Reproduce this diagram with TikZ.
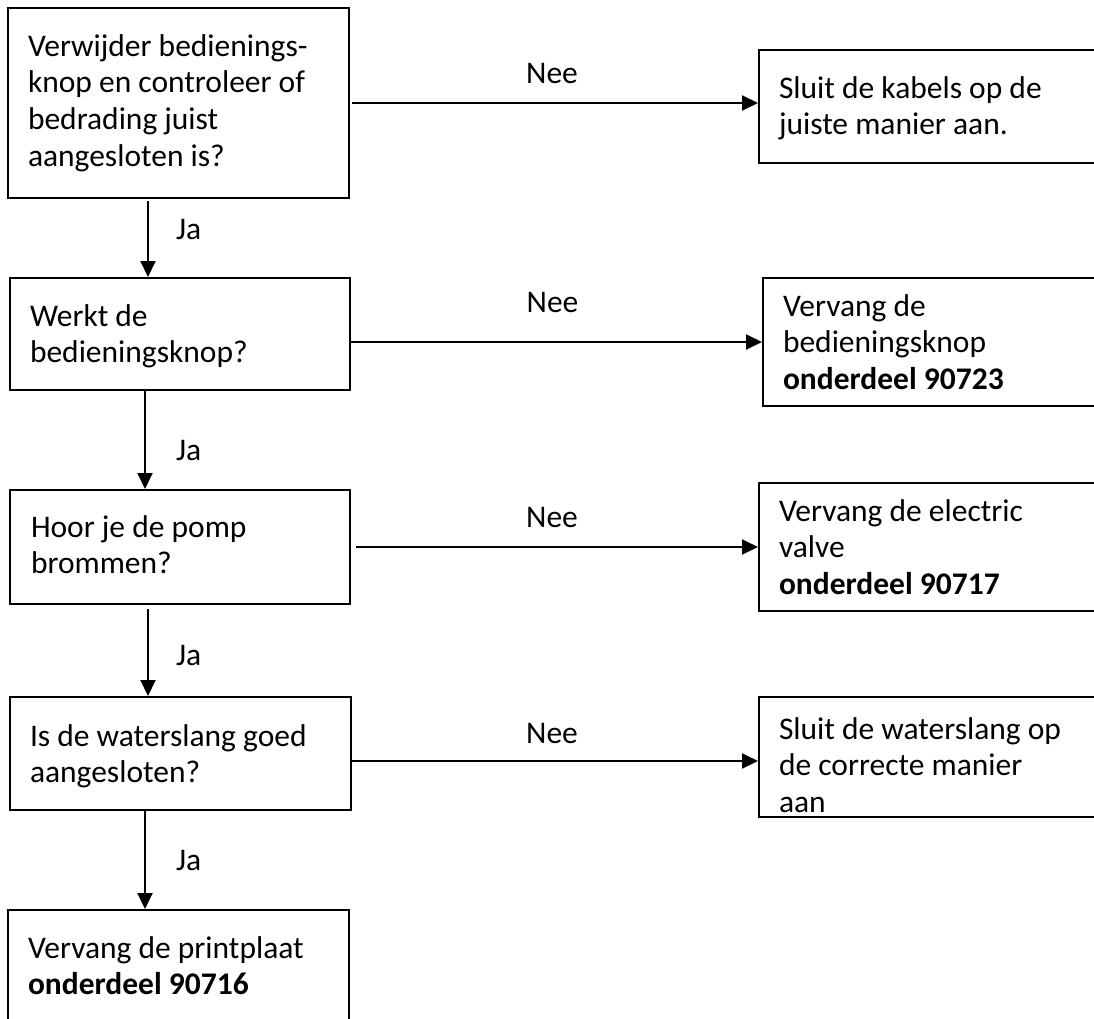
\documentclass[tikz,border=0pt]{standalone}
\usepackage{fontspec}
\setmainfont{Carlito}
\usetikzlibrary{positioning}
\usetikzlibrary{arrows.meta}
\tikzset{stepbox/.style={draw, line width=2pt, anchor=north west, inner xsep=20pt, inner ysep=0pt}}
\tikzset{arr/.style={line width=2pt, -{Triangle[length=16pt,width=15pt]}}}
\tikzset{lbl/.style={inner sep=0pt}}

\begin{document}
\begin{tikzpicture}[x=1pt, y=-1pt, font=\fontsize{31.5}{36.7}\selectfont]
\useasboundingbox (0,0) rectangle (1094,1018);
\clip (0,0) rectangle (1094,1018);
% vragen links
\node[stepbox, text height=48pt, text depth=142pt] (q1) at (7,7) {\parbox[t]{301pt}{Verwijder bedienings-\\knop en controleer of\\bedrading juist\\aangesloten is?}};
\node[stepbox, text height=48pt, text depth=64pt] (q2) at (9,277) {\parbox[t]{300pt}{Werkt de\\bedieningsknop?}};
\node[stepbox, inner xsep=21pt, text height=47pt, text depth=67pt] (q3) at (9,489) {\parbox[t]{298pt}{Hoor je de pomp\\brommen?}};
\node[stepbox, text height=49pt, text depth=64pt] (q4) at (9,696) {\parbox[t]{301pt}{Is de waterslang goed\\aangesloten?}};
\node[stepbox, text height=48pt, text depth=130pt] (q5) at (7,909) {\parbox[t]{301pt}{Vervang de printplaat\\\textbf{onderdeel 90716}}};
% oplossingen rechts
\node[stepbox, text height=48pt, text depth=65pt] (r1) at (758,49) {\parbox[t]{320pt}{Sluit de kabels op de\\juiste manier aan.}};
\node[stepbox, text height=38pt, text depth=90pt] (r2) at (762,277) {\parbox[t]{320pt}{Vervang de\\bedieningsknop\\\textbf{onderdeel 90723}}};
\node[stepbox, text height=38pt, text depth=90pt] (r3) at (758,482) {\parbox[t]{320pt}{Vervang de electric\\valve\\\textbf{onderdeel 90717}}};
\node[stepbox, text height=42pt, text depth=78pt] (r4) at (758,696) {\parbox[t]{320pt}{Sluit de waterslang op\\de correcte manier\\aan}};
% Ja
\draw[arr] ([xshift=141pt,yshift=-2pt]q1.south west) -- ([xshift=139pt]q2.north west) node[lbl, pos=0.38, right=27pt] {Ja};
\draw[arr] ([xshift=136pt]q2.south west) -- ([xshift=136pt]q3.north west) node[lbl, pos=0.61, right=30pt] {Ja};
\draw[arr] ([xshift=139pt,yshift=-4pt]q3.south west) -- ([xshift=139pt]q4.north west) node[lbl, pos=0.53, right=27pt] {Ja};
\draw[arr] ([xshift=136pt]q4.south west) -- ([xshift=138pt]q5.north west) node[lbl, pos=0.5, right=30pt] {Ja};
% Nee
\draw[arr] ([xshift=2pt]q1.east) -- (q1.east -| r1.west) node[lbl, midway, anchor=base, xshift=-3pt, yshift=20pt] {Nee};
\draw[arr] (r2.west -| q2.east) -- (r2.west) node[lbl, midway, anchor=base, xshift=-4pt, yshift=30pt] {Nee};
\draw[arr] ([xshift=5pt]q3.east) -- (q3.east -| r3.west) node[lbl, midway, anchor=base, xshift=-5pt, yshift=20pt] {Nee};
\draw[arr] ([yshift=-7.5pt]q4.east) -- ([yshift=-7.5pt]q4.east -| r4.west) node[lbl, midway, anchor=base, xshift=-3pt, yshift=18pt] {Nee};
\end{tikzpicture}
\end{document}
